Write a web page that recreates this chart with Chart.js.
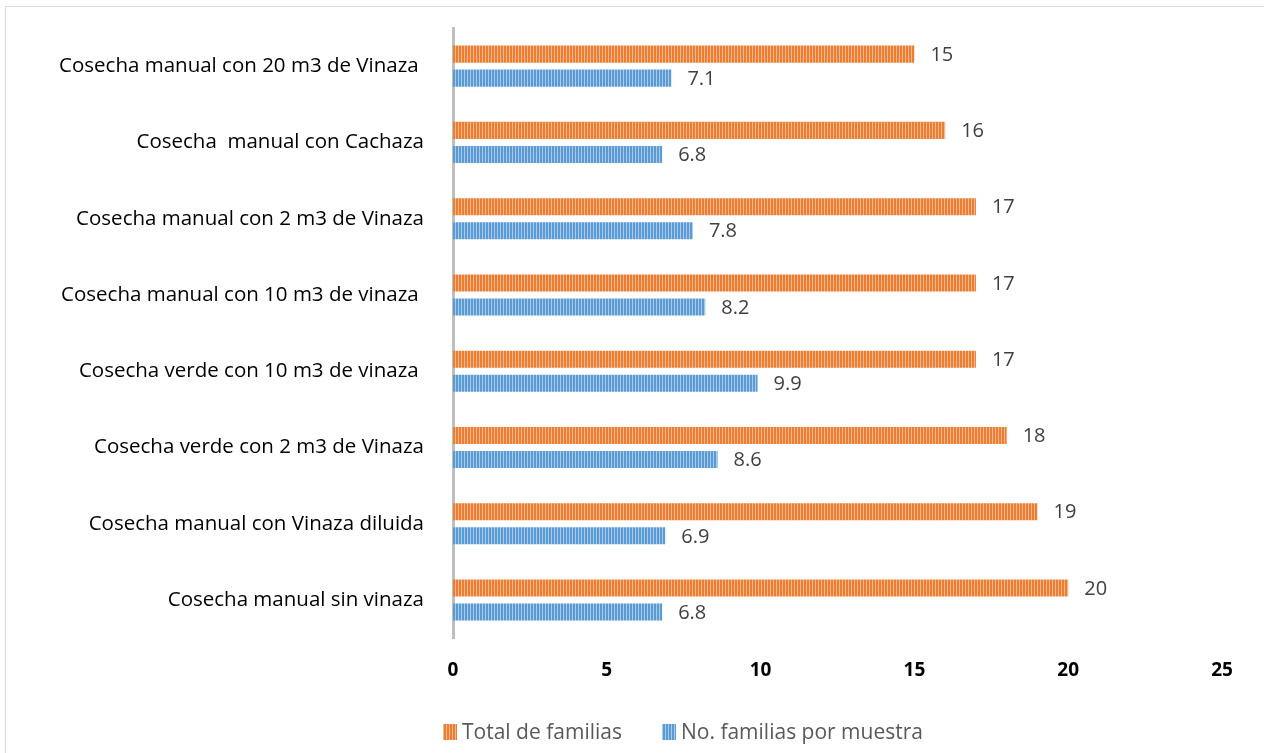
<!DOCTYPE html>
<html><head><meta charset="utf-8">
<script src="https://cdn.jsdelivr.net/npm/chart.js@4/dist/chart.umd.min.js"></script>
<style>
html,body{margin:0;padding:0;background:#fff;overflow:hidden}
#wrap{position:absolute;left:0;top:0;width:1264px;height:753px}
#frame{position:absolute;left:5px;top:6px;width:1300px;height:800px;border:1.5px solid #d9d9d9;box-sizing:border-box}
canvas{position:absolute;left:0;top:0}
</style></head><body>
<div id="wrap"><div id="frame"></div><canvas id="c" width="1264" height="753"></canvas></div>
<script>
const categories = [
  "Cosecha manual con 20 m3 de Vinaza ",
  "Cosecha  manual con Cachaza",
  "Cosecha manual con 2 m3 de Vinaza",
  "Cosecha manual con 10 m3 de vinaza ",
  "Cosecha verde con 10 m3 de vinaza ",
  "Cosecha verde con 2 m3 de Vinaza",
  "Cosecha manual con Vinaza diluida",
  "Cosecha manual sin vinaza"
];
const totalFamilias = [15, 16, 17, 17, 17, 18, 19, 20];
const familiasPorMuestra = [7.1, 6.8, 7.8, 8.2, 9.9, 8.6, 6.9, 6.8];
const seriesNames = ["Total de familias", "No. familias por muestra"];
const xTicks = [0, 5, 10, 15, 20, 25];

function stripe(dark, light) {
  const p = document.createElement('canvas');
  p.width = 3; p.height = 4;
  const g = p.getContext('2d');
  g.fillStyle = light; g.fillRect(0, 0, 3, 4);
  g.fillStyle = dark; g.fillRect(0, 0, 2, 4);
  return g.createPattern(p, 'repeat');
}
const ctx = document.getElementById('c').getContext('2d');
const orangeP = stripe('#ED7D31', '#F6B88E');
const blueP = stripe('#5B9BD5', '#A9CBEB');

const FONT = "'Open Sans', sans-serif";

const labelPlugin = {
  id: 'valLabels',
  afterDatasetsDraw(chart) {
    const c = chart.ctx;
    c.save();
    c.font = "20px " + FONT;
    c.fillStyle = '#404040';
    c.textBaseline = 'middle';
    c.textAlign = 'left';
    chart.data.datasets.forEach((ds, i) => {
      chart.getDatasetMeta(i).data.forEach((bar, j) => {
        c.fillText(String(ds.data[j]), bar.x + 16, bar.y + 1);
      });
    });
    c.restore();
  }
};

const legendPlugin = {
  id: 'customLegend',
  afterDraw(chart) {
    const c = chart.ctx;
    c.save();
    c.font = "21px " + FONT;
    c.textBaseline = 'middle';
    c.textAlign = 'left';
    let x = 443;
    const yc = 732;
    chart.data.datasets.forEach((ds) => {
      c.fillStyle = ds.backgroundColor;
      c.fillRect(x, yc - 8, 14, 16);
      x += 19;
      c.fillStyle = '#595959';
      c.fillText(ds.label, x, yc + 1);
      x += c.measureText(ds.label).width + 40;
    });
    c.restore();
  }
};

new Chart(ctx, {
  type: 'bar',
  data: {
    labels: categories,
    datasets: [
      { label: seriesNames[0], data: totalFamilias, backgroundColor: orangeP, borderWidth: 0 },
      { label: seriesNames[1], data: familiasPorMuestra, backgroundColor: blueP, borderWidth: 0 }
    ]
  },
  options: {
    indexAxis: 'y',
    responsive: false,
    animation: false,
    devicePixelRatio: 1,
    datasets: { bar: { categoryPercentage: 0.63, barPercentage: 0.71 } },
    layout: { padding: { top: 28, right: 42, bottom: 58, left: 10 } },
    scales: {
      x: {
        min: 0, max: 25,
        afterBuildTicks(s) { s.ticks = xTicks.map(v => ({ value: v })); },
        grid: { display: false },
        border: { display: false },
        ticks: { color: '#000', font: { family: FONT, size: 19, weight: 'bold' }, padding: 13 }
      },
      y: {
        afterFit(s) { s.width = 443; s.paddingTop = 0; s.paddingBottom = 0; },
        grid: { display: false },
        border: { display: true, color: '#bfbfbf', width: 3 },
        ticks: { color: '#000', font: { family: FONT, size: 20.5 }, padding: 21 }
      }
    },
    plugins: {
      legend: { display: false },
      tooltip: { enabled: false }
    }
  },
  plugins: [labelPlugin, legendPlugin]
});
</script>
</body></html>
